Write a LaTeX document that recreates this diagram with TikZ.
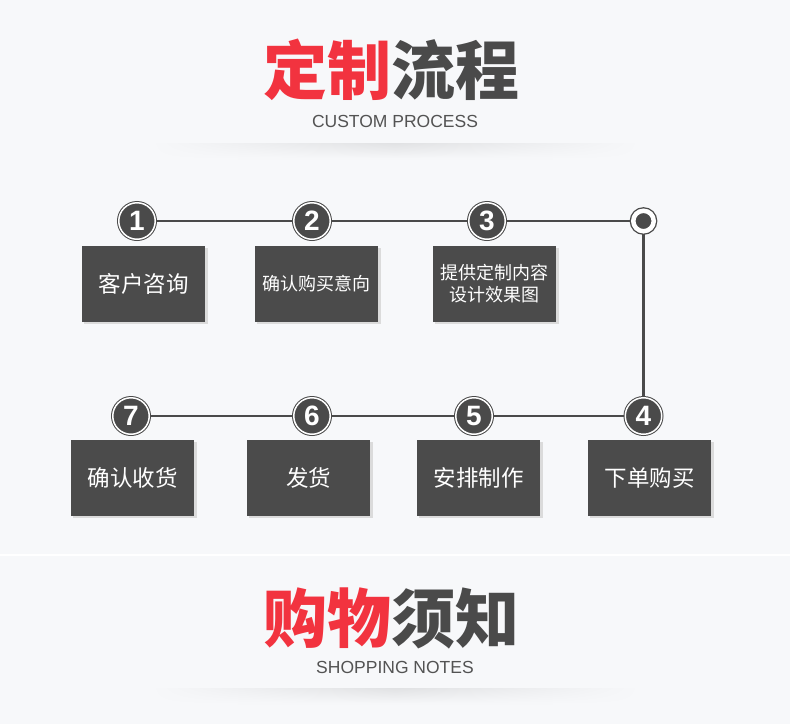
\documentclass[tikz,border=0pt]{standalone}
\usepackage{fontspec}
\setmainfont{Liberation Sans}
\newfontfamily\cjk{Noto Sans CJK SC}
\definecolor{bg}{HTML}{F7F8FA}
\definecolor{dark}{HTML}{4A4A4A}
\definecolor{boxc}{HTML}{4B4B4B}
\definecolor{redc}{HTML}{F2333F}
\tikzset{
  numc/.style={circle, minimum size=36.5pt, inner sep=0pt, fill=dark, draw=dark, line width=1pt, double=white, double distance=1.5pt, text=white, font=\fontsize{28}{28}\selectfont\bfseries},
  endc/.style={circle, minimum size=20.5pt, inner sep=0pt, fill=dark, draw=dark, line width=1.3pt, double=white, double distance=4.5pt},
  stepbox/.style={rectangle, fill=boxc, text=white, minimum width=123pt, minimum height=76pt, inner sep=0pt, align=center, font=\cjk\fontsize{22.5}{26}\selectfont},
  smallbox/.style={stepbox, font=\cjk\fontsize{18}{22}\selectfont},
  conn/.style={draw=dark, line width=2.4pt},
  shad/.style={fill=black!14},
  subtitle/.style={font=\fontsize{17.5}{18}\selectfont, text=dark!95, inner sep=0pt},
}
\begin{document}
\begin{tikzpicture}[x=1pt,y=-1pt]
\useasboundingbox (0,0) rectangle (790,724);
\fill[bg] (0,0) rectangle (790,724);
\fill[white] (0,554) rectangle (790,556);
% title shadows
\foreach \yy in {143,688}{
  \foreach \i in {0,...,15}{
    \pgfmathsetmacro{\amt}{9*(1-\i/16)}
    \fill[left color=bg, right color=bg, middle color=black!\amt!bg] (150,\yy+\i) rectangle (640,\yy+\i+1.1);
  }
}
% titles
\node[font=\cjk\fontsize{64}{64}\selectfont\bfseries, inner sep=0pt] (t1) at (391,70) {\textcolor{redc}{定制}\textcolor{dark}{流程}};
\node[subtitle] (s1) at (395,121) {CUSTOM PROCESS};
\node[font=\cjk\fontsize{64}{64}\selectfont\bfseries, inner sep=0pt] (t2) at (391,618) {\textcolor{redc}{购物}\textcolor{dark}{须知}};
\node[subtitle] (s2) at (395,667) {SHOPPING NOTES};
% box shadows
\foreach \x/\y in {144/284, 317/284, 495/284, 133/478, 309/478, 479/478, 650/478}
  \fill[shad] (\x-60,\y-36) rectangle (\x+64,\y+40);
% boxes
\node[stepbox] (b1) at (143.5,284) {客户咨询};
\node[smallbox] (b2) at (316.5,284) {确认购买意向};
\node[smallbox] (b3) at (494.5,284) {提供定制内容\\设计效果图};
\node[stepbox] (b7) at (132.5,478) {确认收货};
\node[stepbox] (b6) at (308.5,478) {发货};
\node[stepbox] (b5) at (478.5,478) {安排制作};
\node[stepbox] (b4) at (649.5,478) {下单购买};
% circle coordinates
\coordinate (p1) at (137,221);
\coordinate (pe) at (643.5,221);
\coordinate (p4) at (643.5,416);
\coordinate (p7) at (131,416);
\draw[conn] (p1) -- (pe) -- (p4) -- (p7);
\node[numc] (c1) at (p1) {1};
\node[numc] (c2) at (312,221) {2};
\node[numc] (c3) at (487,221) {3};
\node[endc] (ce) at (pe) {};
\node[numc] (c4) at (p4) {4};
\node[numc] (c5) at (474,416) {5};
\node[numc] (c6) at (312,416) {6};
\node[numc] (c7) at (p7) {7};
\end{tikzpicture}
\end{document}
